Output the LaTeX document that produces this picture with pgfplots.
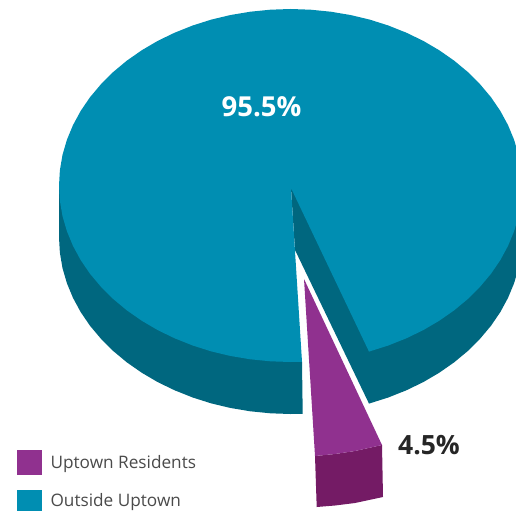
\documentclass[border=0pt]{standalone}
\usepackage{pgfplots}
\pgfplotsset{compat=1.18}
\usepackage{fontspec}
\setmainfont{Open Sans}
\definecolor{tealtop}{HTML}{008EB2}
\definecolor{tealside}{HTML}{00677F}
\definecolor{plumtop}{HTML}{90318F}
\definecolor{plumside}{HTML}{741B65}
\definecolor{legendtext}{HTML}{4A4A4A}
\begin{document}
\begin{tikzpicture}
\path[use as bounding box] (0,0) rectangle (516bp,511bp);
\clip (0,0) rectangle (516bp,511bp);
\begin{axis}[
  at={(0,0)}, anchor=south west,
  scale only axis, width=516bp, height=511bp,
  xmin=0, xmax=516, ymin=0, ymax=511, y dir=reverse,
  hide axis, clip=true,
  legend cell align=left,
  legend columns=1,
  legend style={
    at={(axis cs:17,450)}, anchor=north west,
    draw=none, fill=none, inner xsep=0pt, inner ysep=0pt,
    font=\fontsize{17.2bp}{19bp}\selectfont\color{legendtext},
    row sep=15bp,
    /tikz/every even column/.append style={column sep=0bp},
    nodes={inner sep=0pt, outer sep=0pt},
  },
]
% Outer wall, left of the cut
\addplot[fill=tealside, draw=none, forget plot] coordinates {
  (59,185.5) (59,237.5) (59.9,252.9) (62.5,268.1) (66.9,283.2) (73,297.9)
  (80.7,312.1) (90,325.75) (100.9,338.7) (113.2,351) (126.8,362.3)
  (141.7,372.7) (157.7,382.1) (174.75,390.35) (192.7,397.5) (211.3,403.4)
  (230.6,408) (250.3,411.3) (270.3,413.3) (290.5,414) (302.7,413.8)
  (302,362) (290.5,300)
} -- cycle;
% Outer wall and cut face, right of the cut
\addplot[fill=tealside, draw=none, forget plot] coordinates {
  (291,188) (295,250) (369,403.6) (388.3,397.5) (406.25,390.35) (423.3,382.1)
  (439.3,372.7) (454.2,362.3) (467.8,351) (480.1,338.7) (491,325.75)
  (500.3,312.1) (508,297.9) (514.1,283.2) (518.5,268.1) (521.1,252.9)
  (522,237.5) (522,185.5)
} -- cycle;
% Top face of the 95.5% share
\addplot[fill=tealtop, draw=none, forget plot] coordinates {
  (291,188) (369,351.6) (388.3,345.5) (406.25,338.35) (423.3,330.1)
  (439.3,320.7) (454.2,310.3) (467.8,299) (480.1,286.7) (491,273.75)
  (500.3,260.1) (508,245.9) (514.1,231.2) (518.5,216.1) (521.1,200.9)
  (522,185.5) (521.1,170.1) (518.5,154.9) (514.1,139.8) (508,125.1)
  (500.3,110.9) (491,97.25) (480.1,84.3) (467.8,72) (454.2,60.7)
  (439.3,50.3) (423.3,40.9) (406.25,32.65) (388.3,25.5) (369.7,19.6)
  (350.4,15) (330.7,11.7) (310.7,9.7) (290.5,9) (270.3,9.7) (250.3,11.7)
  (230.6,15) (211.3,19.6) (192.7,25.5) (174.75,32.65) (157.7,40.9)
  (141.7,50.3) (126.8,60.7) (113.2,72) (100.9,84.3) (90,97.25) (80.7,110.9)
  (73,125.1) (66.9,139.8) (62.5,154.9) (59.9,170.1) (59,185.5) (59.9,200.9)
  (62.5,216.1) (66.9,231.2) (73,245.9) (80.7,260.1) (90,273.75) (100.9,286.7)
  (113.2,299) (126.8,310.3) (141.7,320.7) (157.7,330.1) (174.75,338.35)
  (192.7,345.5) (211.3,351.4) (230.6,356) (250.3,359.3) (270.3,361.3)
  (290.5,362) (302,361.8)
} -- cycle;
% Pulled-out 4.5% share: wall, then top face
\addplot[fill=plumside, draw=none, forget plot] coordinates {
  (315,456) (335,454) (355,451) (382,445) (383,497) (355,503) (335,505.5) (316.7,507)
} -- cycle;
\addplot[fill=plumtop, draw=none, forget plot] coordinates {
  (304,279) (382,445) (355,451) (335,454) (315,456)
} -- cycle;

\node[font=\fontsize{27.5bp}{30bp}\selectfont\bfseries, text=white, anchor=center, inner sep=0pt]
  at (axis cs:261.5,107) {95.5\%};
\node[font=\fontsize{26.5bp}{30bp}\selectfont\bfseries, text=black!85, anchor=center, inner sep=0pt]
  at (axis cs:429,445) {4.5\%};

\addlegendimage{legend image code/.code={\fill[plumtop] (0bp,-12bp) rectangle (24bp,12bp);}}
\addlegendentry{\hspace{9bp}\raisebox{-1bp}{Uptown Residents}}
\addlegendimage{legend image code/.code={\fill[tealtop] (0bp,-12bp) rectangle (24bp,12bp);}}
\addlegendentry{\hspace{9bp}\raisebox{1.5bp}{Outside Uptown}}
\end{axis}
\end{tikzpicture}
\end{document}
